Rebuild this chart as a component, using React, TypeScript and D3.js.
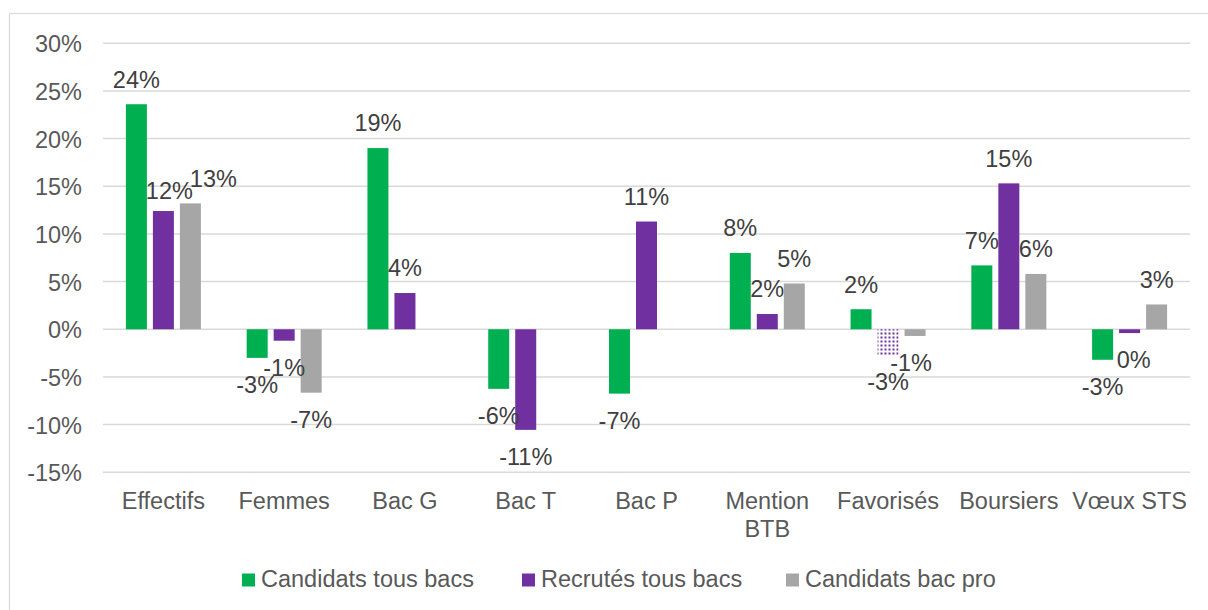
import React from "react";
import * as d3 from "d3";

const categories: string[][] = [
  ["Effectifs"],
  ["Femmes"],
  ["Bac G"],
  ["Bac T"],
  ["Bac P"],
  ["Mention", "BTB"],
  ["Favorisés"],
  ["Boursiers"],
  ["Vœux STS"],
];

const seriesNames = ["Candidats tous bacs", "Recrutés tous bacs", "Candidats bac pro"];
const seriesColors = ["#00B050", "#7030A0", "#A6A6A6"];

// values in percent, null = no bar
const candidatsTousBacs: (number | null)[] = [23.6, -3.0, 19.0, -6.25, -6.75, 8.0, 2.1, 6.7, -3.2];
const recrutesTousBacs: (number | null)[] = [12.4, -1.2, 3.8, -10.55, 11.3, 1.6, -2.7, 15.3, -0.4];
const candidatsBacPro: (number | null)[] = [13.2, -6.65, null, null, null, 4.8, -0.7, 5.8, 2.6];

const yTicks = [-15, -10, -5, 0, 5, 10, 15, 20, 25, 30];

const W = 1208;
const H = 610;
const FONT = "'Liberation Sans', Arial, sans-serif";
const TXT = "#595959";
const FS = 23.5;

export default function App() {
  const series = [candidatsTousBacs, recrutesTousBacs, candidatsBacPro];
  const cats = categories.map((c) => c.join(" "));
  const x = d3.scaleBand<string>().domain(cats).range([103, 1190]).paddingInner(0).paddingOuter(0);
  const xs = d3
    .scaleBand<number>()
    .domain([0, 1, 2])
    .range([0, 75])
    .paddingInner(6 / 27)
    .paddingOuter(0);
  const y = d3.scaleLinear().domain([-15, 30]).range([472.3, 43.2]);
  const groupOffset = (x.bandwidth() - 75) / 2;

  // manual label nudges (layout only): key "series-category"
  const labelNudge: Record<string, [number, number]> = {
    "1-0": [6, 5],
    "2-0": [23, 0],
    "1-8": [4, 0],
    "2-6": [-4, 0],
  };

  const fmt = (v: number) => `${Math.round(v) === 0 ? 0 : Math.round(v)}%`;

  return (
    <svg
      width={W}
      height={H}
      style={{ position: "absolute", left: 0, top: 0, background: "#fff" }}
      fontFamily={FONT}
    >
      <defs>
        <pattern id="dots" width="4" height="4" patternUnits="userSpaceOnUse">
          <rect x="0" y="0" width="4" height="4" fill="#fff" />
          <rect x="0.5" y="0.5" width="2" height="2" fill="#7030A0" />
        </pattern>
      </defs>
      <rect x={0} y={0} width={W} height={H} fill="#fff" />
      <rect x={9.5} y={13.5} width={1220} height={620} fill="none" stroke="#D9D9D9" strokeWidth={1.2} />

      {/* gridlines */}
      {yTicks.map((t) => (
        <line
          key={t}
          x1={103}
          x2={1190}
          y1={y(t)}
          y2={y(t)}
          stroke="#D9D9D9"
          strokeWidth={1.5}
        />
      ))}
      {/* y tick labels */}
      {yTicks.map((t) => (
        <text key={"l" + t} x={82} y={y(t) + 9} textAnchor="end" fontSize={FS} fill={TXT}>
          {`${t}%`}
        </text>
      ))}

      {/* bars */}
      {series.map((vals, si) =>
        vals.map((v, ci) => {
          if (v === null) return null;
          const bx = (x(cats[ci]) as number) + groupOffset + (xs(si) as number);
          const y0 = y(0);
          const yv = y(v);
          const top = Math.min(y0, yv);
          const h = Math.abs(yv - y0);
          const dotted = si === 1 && ci === 6;
          return (
            <rect
              key={`b${si}-${ci}`}
              x={bx}
              y={top}
              width={xs.bandwidth()}
              height={h}
              fill={dotted ? "url(#dots)" : seriesColors[si]}
            />
          );
        })
      )}

      {/* data labels */}
      {series.map((vals, si) =>
        vals.map((v, ci) => {
          if (v === null) return null;
          const cx = (x(cats[ci]) as number) + groupOffset + (xs(si) as number) + xs.bandwidth() / 2;
          const nudge = labelNudge[`${si}-${ci}`] || [0, 0];
          const center = v >= 0 ? y(v) - 25 : y(v) + 27;
          return (
            <text
              key={`t${si}-${ci}`}
              x={cx + nudge[0]}
              y={center + 8.3 + nudge[1]}
              textAnchor="middle"
              fontSize={FS}
              fill="#404040"
            >
              {fmt(v)}
            </text>
          );
        })
      )}

      {/* category labels */}
      {categories.map((lines, ci) => (
        <text
          key={"c" + ci}
          x={(x(cats[ci]) as number) + x.bandwidth() / 2}
          y={508.5}
          textAnchor="middle"
          fontSize={FS}
          fill={TXT}
        >
          {lines.map((ln, li) => (
            <tspan key={li} x={(x(cats[ci]) as number) + x.bandwidth() / 2} dy={li === 0 ? 0 : 28.8}>
              {ln}
            </tspan>
          ))}
        </text>
      ))}

      {/* legend */}
      {seriesNames.map((name, si) => {
        const lx = [242, 522, 786][si];
        return (
          <g key={"lg" + si}>
            <rect x={lx} y={573.5} width={13} height={13} fill={seriesColors[si]} />
            <text x={lx + 19} y={587} fontSize={FS} fill={TXT}>
              {name}
            </text>
          </g>
        );
      })}
    </svg>
  );
}
